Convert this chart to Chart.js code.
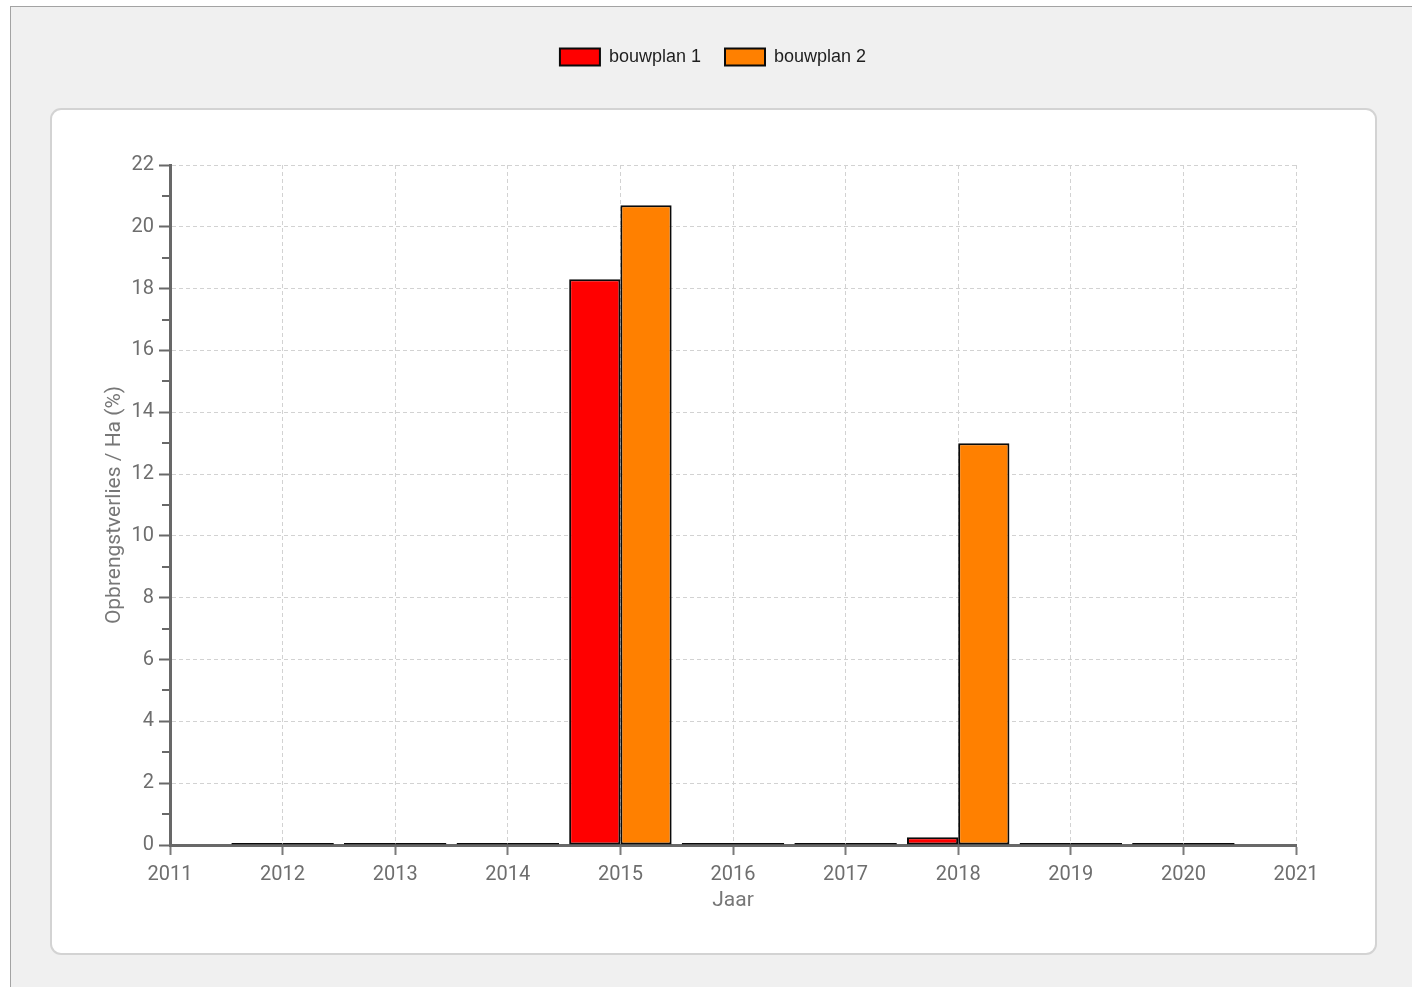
<!DOCTYPE html>
<html>
<head>
<meta charset="utf-8">
<script src="https://cdn.jsdelivr.net/npm/chart.js@4"></script>
<style>
  html, body { margin: 0; padding: 0; background: #ffffff; overflow: hidden; }
  #frame { position: absolute; left: 10px; top: 6px; width: 1402px; height: 981px;
           background: #f0f0f0; border-left: 1px solid #a3a3a3; border-top: 1px solid #a3a3a3; box-sizing: border-box; }
  #panel { position: absolute; left: 50px; top: 108px; width: 1327px; height: 847px;
           background: #ffffff; border: 2px solid #d3d3d3; border-radius: 11px; box-sizing: border-box; }
  #wrap { position: absolute; left: 0; top: 0; width: 1412px; height: 987px; }
</style>
</head>
<body>
<div id="frame"></div>
<div id="panel"></div>
<div id="wrap"><canvas id="c" width="1412" height="987"></canvas></div>
<script>
const years = [2012, 2013, 2014, 2015, 2016, 2017, 2018, 2019, 2020];
const bouwplan1 = [0, 0, 0, 18.3, 0, 0, 0.25, 0, 0];
const bouwplan2 = [0, 0, 0, 20.7, 0, 0, 13.0, 0, 0];
const seriesNames = ['bouwplan 1', 'bouwplan 2'];
const seriesColors = ['#ff0000', '#ff8000'];
const xTitle = 'Jaar';
const yTitle = 'Opbrengstverlies / Ha (%)';
const xMin = 2011, xMax = 2021;
const yMin = 0, yMax = 22;

const tickFont = { family: 'Roboto', size: 20 };
const labelColor = '#6e6e6e';
const axisColor = '#686868';
const gridColor = '#d2d2d2';

const minorTicks = {
  id: 'minorTicks',
  beforeDatasetsDraw(chart) {
    const s = chart.scales.y;
    const ctx = chart.ctx;
    ctx.save();
    ctx.strokeStyle = axisColor;
    ctx.lineWidth = 2;
    for (let v = yMin + 1; v < yMax; v += 2) {
      const py = Math.round(s.getPixelForValue(v));
      ctx.beginPath();
      ctx.moveTo(s.right - 8, py);
      ctx.lineTo(s.right, py);
      ctx.stroke();
    }
    ctx.restore();
  }
};

new Chart(document.getElementById('c'), {
  type: 'bar',
  data: {
    datasets: [
      { label: seriesNames[0], data: years.map((y, i) => ({ x: y, y: bouwplan1[i] })),
        backgroundColor: seriesColors[0], borderColor: '#0a0a0a', borderWidth: 2, borderSkipped: false, minBarLength: 2 },
      { label: seriesNames[1], data: years.map((y, i) => ({ x: y, y: bouwplan2[i] })),
        backgroundColor: seriesColors[1], borderColor: '#0a0a0a', borderWidth: 2, borderSkipped: false, minBarLength: 2 }
    ]
  },
  options: {
    responsive: false,
    animation: false,
    categoryPercentage: 0.91,
    barPercentage: 1.0,
    layout: { padding: { left: 50, right: 36, top: 24, bottom: 33 } },
    plugins: {
      tooltip: { enabled: false },
      legend: {
        position: 'top',
        labels: {
          boxWidth: 40, boxHeight: 17, padding: 24,
          color: '#1e1e1e',
          font: { family: 'Liberation Sans', size: 18 }
        }
      }
    },
    scales: {
      x: {
        type: 'linear', position: 'bottom', min: xMin, max: xMax, offset: false,
        afterFit(s) { s.height = 109; },
        ticks: { stepSize: 1, autoSkip: false, color: labelColor, font: tickFont, padding: 8,
                 callback: v => String(v), maxRotation: 0 },
        grid: { offset: false, color: gridColor, lineWidth: 1, tickColor: '#7a7a7a', tickWidth: 2, tickLength: 10 },
        border: { display: true, color: axisColor, width: 3, dash: [4, 3] },
        title: { display: true, text: xTitle, color: '#777777', font: { family: 'Roboto', size: 21 },
                 padding: { top: 0, bottom: 41 } }
      },
      x2: {
        type: 'linear', position: 'top', min: xMin, max: xMax, display: true,
        afterFit(s) { s.height = 89; },
        ticks: { display: false }, grid: { display: false }, border: { display: false }
      },
      y: {
        type: 'linear', position: 'left', min: yMin, max: yMax,
        afterFit(s) { s.width = 120; },
        ticks: { stepSize: 1, autoSkip: false, color: labelColor, font: tickFont, padding: 5,
                 callback: v => (v % 2 === 0 ? String(v) : '') },
        grid: {
          color: c => (c.tick && c.tick.value % 2 === 0 ? gridColor : 'rgba(0,0,0,0)'),
          tickColor: c => (c.tick && c.tick.value % 2 === 0 ? axisColor : 'rgba(0,0,0,0)'),
          lineWidth: 1, tickWidth: 2, tickLength: 11
        },
        border: { display: true, color: axisColor, width: 3, dash: [4, 3] },
        title: { display: true, text: yTitle, color: '#777777', font: { family: 'Roboto', size: 21 },
                 padding: { top: 52, bottom: 0 } }
      },
      y2: {
        type: 'linear', position: 'right', min: yMin, max: yMax, display: true,
        afterFit(s) { s.width = 80; },
        ticks: { display: false }, grid: { display: false }, border: { display: false }
      }
    }
  },
  plugins: [minorTicks]
});
</script>
</body>
</html>
